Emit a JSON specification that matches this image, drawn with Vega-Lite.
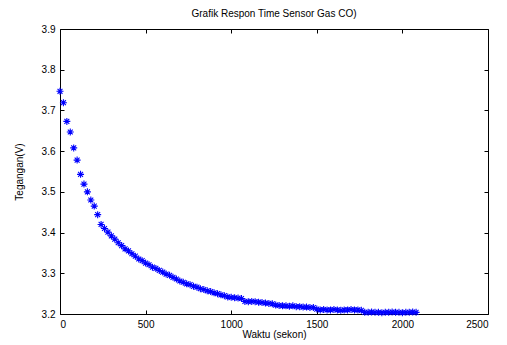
{
  "$schema": "https://vega.github.io/schema/vega-lite/v6.json",
  "width": 428,
  "height": 285,
  "autosize": {"type": "none"},
  "padding": {"left": 60, "top": 29, "right": 19, "bottom": 31},
  "background": "white",
  "title": {"text": "Grafik Respon Time Sensor Gas CO)", "font": "Liberation Sans", "fontSize": 10, "fontWeight": "normal", "color": "black", "offset": 5},
  "config": {
    "view": {"stroke": "black", "strokeWidth": 1},
    "axis": {"domain": false, "grid": false, "tickColor": "black", "tickSize": -4, "labelPadding": 9, "labelFont": "Liberation Sans", "labelFontSize": 10, "labelColor": "black", "titleFont": "Liberation Sans", "titleFontSize": 10, "titleFontWeight": "normal", "titleColor": "black"}
  },
  "data": {"values": [
    {"t": 0, "v": 3.747}, {"t": 20, "v": 3.719}, {"t": 40, "v": 3.673}, {"t": 60, "v": 3.647}, {"t": 80, "v": 3.608},
    {"t": 100, "v": 3.578}, {"t": 120, "v": 3.543}, {"t": 140, "v": 3.519}, {"t": 160, "v": 3.500}, {"t": 180, "v": 3.480},
    {"t": 200, "v": 3.465}, {"t": 220, "v": 3.444}, {"t": 240, "v": 3.420}, {"t": 260, "v": 3.410}, {"t": 280, "v": 3.401},
    {"t": 300, "v": 3.392}, {"t": 320, "v": 3.384}, {"t": 340, "v": 3.375}, {"t": 360, "v": 3.368}, {"t": 380, "v": 3.360},
    {"t": 400, "v": 3.355}, {"t": 420, "v": 3.348}, {"t": 440, "v": 3.342}, {"t": 460, "v": 3.335}, {"t": 480, "v": 3.331},
    {"t": 500, "v": 3.325}, {"t": 520, "v": 3.321}, {"t": 540, "v": 3.315}, {"t": 560, "v": 3.312}, {"t": 580, "v": 3.307},
    {"t": 600, "v": 3.303}, {"t": 620, "v": 3.298}, {"t": 640, "v": 3.295}, {"t": 660, "v": 3.290}, {"t": 680, "v": 3.286},
    {"t": 700, "v": 3.281}, {"t": 720, "v": 3.278}, {"t": 740, "v": 3.274}, {"t": 760, "v": 3.272}, {"t": 780, "v": 3.268},
    {"t": 800, "v": 3.266}, {"t": 820, "v": 3.262}, {"t": 840, "v": 3.260}, {"t": 860, "v": 3.257}, {"t": 880, "v": 3.255},
    {"t": 900, "v": 3.252}, {"t": 920, "v": 3.250}, {"t": 940, "v": 3.247}, {"t": 960, "v": 3.245}, {"t": 980, "v": 3.242},
    {"t": 1000, "v": 3.241}, {"t": 1020, "v": 3.240}, {"t": 1040, "v": 3.239}, {"t": 1060, "v": 3.238}, {"t": 1080, "v": 3.231},
    {"t": 1100, "v": 3.230}, {"t": 1120, "v": 3.231}, {"t": 1140, "v": 3.230}, {"t": 1160, "v": 3.229}, {"t": 1180, "v": 3.228},
    {"t": 1200, "v": 3.227}, {"t": 1220, "v": 3.226}, {"t": 1240, "v": 3.225}, {"t": 1260, "v": 3.222}, {"t": 1280, "v": 3.221},
    {"t": 1300, "v": 3.220}, {"t": 1320, "v": 3.220}, {"t": 1340, "v": 3.219}, {"t": 1360, "v": 3.220}, {"t": 1380, "v": 3.218},
    {"t": 1400, "v": 3.218}, {"t": 1420, "v": 3.217}, {"t": 1440, "v": 3.217}, {"t": 1460, "v": 3.216}, {"t": 1480, "v": 3.216},
    {"t": 1500, "v": 3.212}, {"t": 1520, "v": 3.210}, {"t": 1540, "v": 3.211}, {"t": 1560, "v": 3.210}, {"t": 1580, "v": 3.210},
    {"t": 1600, "v": 3.211}, {"t": 1620, "v": 3.210}, {"t": 1640, "v": 3.209}, {"t": 1660, "v": 3.210}, {"t": 1680, "v": 3.210},
    {"t": 1700, "v": 3.211}, {"t": 1720, "v": 3.210}, {"t": 1740, "v": 3.210}, {"t": 1760, "v": 3.209}, {"t": 1780, "v": 3.204},
    {"t": 1800, "v": 3.204}, {"t": 1820, "v": 3.205}, {"t": 1840, "v": 3.204}, {"t": 1860, "v": 3.204}, {"t": 1880, "v": 3.203},
    {"t": 1900, "v": 3.204}, {"t": 1920, "v": 3.204}, {"t": 1940, "v": 3.205}, {"t": 1960, "v": 3.204}, {"t": 1980, "v": 3.204},
    {"t": 2000, "v": 3.203}, {"t": 2020, "v": 3.204}, {"t": 2040, "v": 3.204}, {"t": 2060, "v": 3.205}, {"t": 2080, "v": 3.204}
  ]},
  "layer": [
    {
      "mark": {"type": "point", "shape": "M-1,0L1,0M0,-1L0,1M-0.7,-0.7L0.7,0.7M-0.7,0.7L0.7,-0.7", "filled": false, "stroke": "#0000ff", "strokeWidth": 1.1, "size": 49, "opacity": 1},
      "encoding": {
        "x": {"field": "t", "type": "quantitative", "scale": {"domain": [0, 2500], "nice": false, "zero": false}, "axis": {"values": [0, 500, 1000, 1500, 2000, 2500], "format": "d", "title": "Waktu (sekon)", "titlePadding": 0}},
        "y": {"field": "v", "type": "quantitative", "scale": {"domain": [3.2, 3.9], "nice": false, "zero": false}, "axis": {"values": [3.2, 3.3, 3.4, 3.5, 3.6, 3.7, 3.8, 3.9], "format": ".1f", "title": "Tegangan(V)", "titlePadding": 17}}
      }
    },
    {
      "mark": {"type": "point", "opacity": 0},
      "encoding": {
        "x": {"field": "t", "type": "quantitative", "axis": {"orient": "top", "values": [0, 500, 1000, 1500, 2000, 2500], "labels": false, "title": null}},
        "y": {"field": "v", "type": "quantitative", "axis": {"orient": "right", "values": [3.2, 3.3, 3.4, 3.5, 3.6, 3.7, 3.8, 3.9], "labels": false, "title": null}}
      }
    }
  ],
  "resolve": {"axis": {"x": "independent", "y": "independent"}}
}
